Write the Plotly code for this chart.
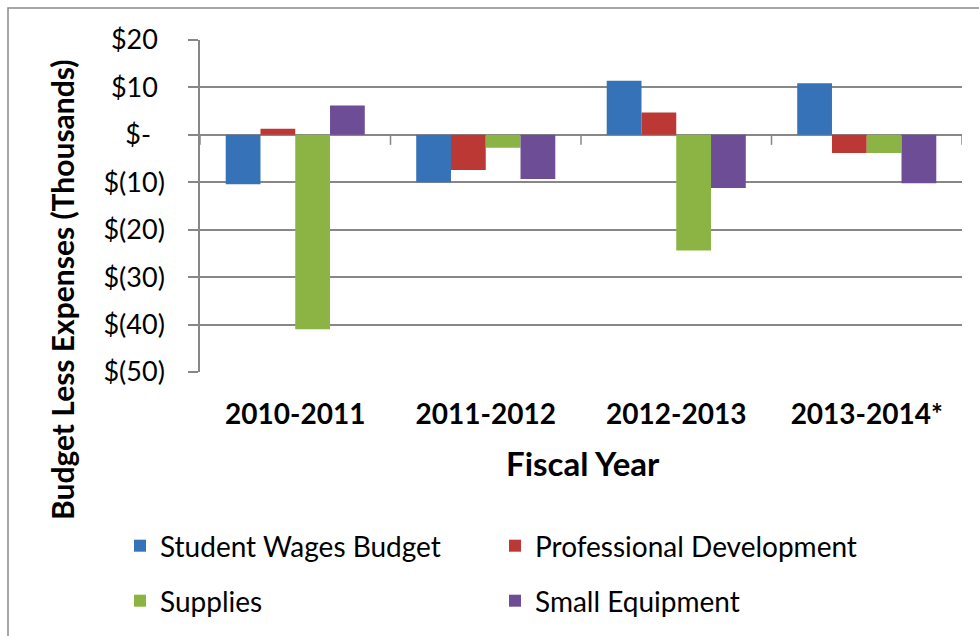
import plotly.graph_objects as go

# ---- data ----
categories = ["2010-2011", "2011-2012", "2012-2013", "2013-2014*"]
student_wages = [-10.4, -10.0, 11.4, 10.9]
professional_dev = [1.3, -7.4, 4.7, -3.8]
supplies = [-41.0, -2.7, -24.4, -3.8]
small_equipment = [6.2, -9.3, -11.2, -10.2]
series_names = ["Student Wages Budget", "Professional Development", "Supplies", "Small Equipment"]
y_tickvals = [-50, -40, -30, -20, -10, 0, 10, 20]
y_ticktext = ["$(50)", "$(40)", "$(30)", "$(20)", "$(10)", "$-\u00a0\u00a0", "$10\u00a0", "$20\u00a0"]

colors = ["#3572b8", "#bb3835", "#8cb444", "#6d4d96"]

W, H = 979, 636
L, R, T, B = 200, 17, 40, 264
PW, PH = W - L - R, H - T - B


def px_x(px):
    return (px - L) / PW


def px_y(py):
    return (H - B - py) / PH


def cx(px):
    return px / W


def cy(py):
    return 1 - py / H


FONT = "Lato"

fig = go.Figure()
series = [student_wages, professional_dev, supplies, small_equipment]
legends = ["legend", "legend", "legend2", "legend2"]
for name, vals, col, lg in zip(series_names, series, colors, legends):
    fig.add_trace(go.Bar(
        x=categories, y=vals, name=name,
        marker=dict(color=col, line=dict(width=0)),
        legend=lg,
    ))

shapes = []
# category tick marks on zero line
for k in range(len(categories) + 1):
    shapes.append(dict(type="line", xref="x", yref="y", x0=k - 0.5, x1=k - 0.5,
                       ysizemode="pixel", yanchor=0, y0=0, y1=-10,
                       line=dict(color="#878787", width=1.5)))
# outer chart border
shapes.append(dict(type="rect", xref="paper", yref="paper",
                   x0=px_x(8), x1=px_x(985), y0=px_y(642), y1=px_y(8),
                   line=dict(color="#8a8a8a", width=1.5), fillcolor="rgba(0,0,0,0)", layer="below"))

legend_common = dict(orientation="h", xanchor="left", yanchor="top",
                     xref="container", yref="container",
                     font=dict(family=FONT, size=28, color="black"),
                     entrywidth=330, entrywidthmode="pixels", traceorder="normal",
                     itemclick=False, itemdoubleclick=False)

fig.update_layout(
    width=W, height=H,
    margin=dict(l=L, r=R, t=T, b=B, autoexpand=False),
    paper_bgcolor="white", plot_bgcolor="white",
    barmode="group", bargap=0.27, bargroupgap=0,
    font=dict(family=FONT, color="black"),
    xaxis=dict(
        type="category", range=[-0.5, 3.5], automargin=False,
        showgrid=False, showline=False, zeroline=False, ticks="",
        tickfont=dict(family=FONT, size=28, color="black", weight="bold"),
        ticklabelstandoff=23,
    ),
    yaxis=dict(
        range=[-50, 20], tickvals=y_tickvals, ticktext=y_ticktext, automargin=False,
        showgrid=True, gridcolor="#878787", gridwidth=1.5,
        zeroline=True, zerolinecolor="#878787", zerolinewidth=1.5,
        showline=True, linecolor="#878787", linewidth=1.5,
        ticks="outside", ticklen=10, tickcolor="#878787", tickwidth=1.5,
        tickfont=dict(family=FONT, size=27, color="black"),
        ticklabelstandoff=18,
    ),
    showlegend=True,
    legend=dict(x=cx(120), y=cy(521), **legend_common),
    legend2=dict(x=cx(120), y=cy(576), **legend_common),
    shapes=shapes,
    annotations=[
        dict(text="<b>Budget Less Expenses (Thousands)</b>", xref="paper", yref="paper",
             x=px_x(62), y=px_y(290), textangle=-90, showarrow=False,
             font=dict(family=FONT, size=30, color="black"), xanchor="center", yanchor="middle"),
        dict(text="<b>Fiscal Year</b>", xref="paper", yref="paper",
             x=px_x(583), y=px_y(463), showarrow=False,
             font=dict(family=FONT, size=33, color="black"), xanchor="center", yanchor="middle"),
    ],
)

fig.write_html("out.html")
